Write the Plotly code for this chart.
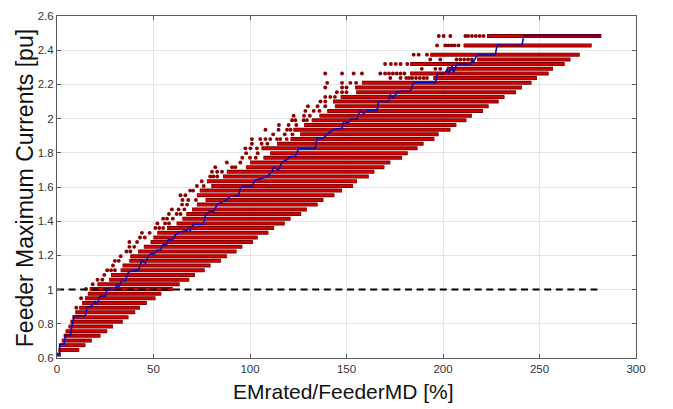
import plotly.graph_objects as go

# ---- data ----
row_y = [0.620, 0.647, 0.675, 0.702, 0.730, 0.757, 0.784, 0.812, 0.839, 0.867,
         0.894, 0.921, 0.949, 0.976, 1.004, 1.031, 1.058, 1.086, 1.113, 1.141,
         1.168, 1.195, 1.223, 1.250, 1.278, 1.305, 1.332, 1.360, 1.387, 1.415,
         1.442, 1.469, 1.497, 1.524, 1.552, 1.579, 1.606, 1.634, 1.661, 1.689,
         1.716, 1.743, 1.771, 1.798, 1.826, 1.853, 1.880, 1.908, 1.935, 1.963,
         1.990, 2.017, 2.045, 2.072, 2.100, 2.127, 2.154, 2.182, 2.209, 2.237,
         2.264, 2.291, 2.319, 2.346, 2.374, 2.428, 2.483]

row_start = [0, 0.8, 1.5, 2.5, 3.5, 4.5, 6, 7, 8, 9.5,
             11.5, 13, 14.5, 16, 17, 21, 27, 28, 33, 34,
             37.5, 38, 42, 45, 48.5, 50, 52, 57, 62, 65,
             67, 70, 72.5, 77, 72.5, 74, 80, 77.7, 86, 88,
             98, 100, 107, 110.5, 106, 114, 121, 126, 122.5, 128,
             132, 136, 140, 144, 143, 147, 155, 154.5, 158, 195,
             183, 202, 183, 217.6, 193.4, 210.7, 222.8]

row_end = [2, 11.5, 14.7, 18, 22.5, 26, 29, 34, 37, 40.5,
           43, 46.5, 51, 54, 60, 63.5, 68.5, 71.5, 76.5, 79.5,
           85, 88, 93, 96, 101.5, 104, 109.5, 112.5, 118, 121,
           126.5, 129.5, 135, 138, 143.7, 147.7, 153.4, 155.4, 161.5, 164.4,
           169.6, 172.7, 178.8, 181.7, 186.8, 189.9, 195.5, 197.7, 203.8, 206.9,
           212.1, 215, 220.7, 223.6, 228.8, 231.8, 237.8, 240.9, 245.8, 248.7,
           254.7, 257, 263, 266, 270.8, 277, 282]

row_sparse = [[], [], [], [], [], [], [], [], [], [],
              [10], [], [12.5], [], [15], [18.5], [21, 23.5], [24.5], [26, 28, 30], [29],
              [30, 32], [33], [36, 38], [37.5, 40], [37.5, 41.5], [43, 45.5], [44, 48], [51, 53, 55], [52, 56, 58], [55, 57, 60],
              [58, 62, 64], [59.5, 63, 66], [64.8, 67.4], [65, 68, 72], [64, 66.5], [69, 70.5], [72.5, 76], [75], [79.4, 81, 83], [80.3, 83, 85.5],
              [82, 90.7, 92.4], [88, 95], [96, 100, 103], [98, 104], [97.6, 100.2, 103.6], [101, 106, 109],
              [101, 105.3, 108, 110.5, 114, 115.7, 119], [112, 118, 122], [108, 114.8, 119.2, 121], [115, 120, 124],
              [121.8, 123.5, 127.8, 129.5], [122.6, 128, 131], [128.7, 133, 136], [130, 135, 139], [136.5, 139], [139, 141.6, 144],
              [145, 147.7, 150], [139, 147.7, 150], [140, 147.7, 152, 155],
              [172.7, 178, 181, 182.5, 184, 186, 188, 190, 191.7],
              [139, 147.7, 153.7, 158, 167.5, 170, 172, 174, 176, 178, 180],
              [189, 196, 198.6], [170, 173, 175.5, 178, 181.5],
              [193.4, 198.6, 207, 209, 211, 213, 215],
              [184.8, 187.4, 191.7],
              [196.9, 201.2, 202.8, 204.5, 206, 208],
              [197.8, 200.3, 203.8, 211.6, 213, 215, 217, 219, 221]]

blue_x = [0, 1.35, 1.35, 3.8, 4.3, 6.9, 7.8, 9, 14.7, 15.5, 18.1, 19.8, 20.5, 21.5, 22.4, 25, 25.9,
          30.2, 31, 31.9, 33.7, 35.4, 37.1, 42.3, 44, 45.8, 47.5, 49.2, 50, 51.8, 53.5, 55.2, 56.6,
          57.8, 59.6, 61.3, 63, 64.8, 67.4, 68.2, 69, 70.8, 76, 76.8, 79.4, 81.2, 82.9, 88, 89.8,
          94.1, 95, 95.8, 101, 102.7, 108.8, 111.4, 112.2, 114.8, 116.6, 119.2, 120.9, 123.5, 125.2,
          133.8, 134.7, 138.1, 139.9, 143.3, 147.7, 148.5, 151, 152, 155.4, 157.1, 158.9, 160.6,
          165.8, 166.6, 171.8, 172.7, 174.4, 176.1, 177.9, 183, 184.8, 196.1, 197, 201.2, 202, 203,
          204.7, 205.5, 207.2, 214.1, 215, 215.8, 217.6, 227.1, 228, 241, 241.8, 281.5]
blue_y = [0.62, 0.62, 0.68, 0.68, 0.732, 0.732, 0.79, 0.847, 0.847, 0.895, 0.905, 0.933, 0.91, 0.94, 0.962, 0.962, 1.0,
          1.0, 1.032, 1.015, 1.057, 1.05, 1.105, 1.115, 1.172, 1.155, 1.2, 1.215, 1.205, 1.23, 1.23, 1.267, 1.257,
          1.296, 1.287, 1.319, 1.335, 1.339, 1.345, 1.363, 1.345, 1.382, 1.382, 1.43, 1.461, 1.455, 1.497, 1.526, 1.549,
          1.549, 1.593, 1.606, 1.606, 1.64, 1.66, 1.689, 1.717, 1.70, 1.746, 1.76, 1.778, 1.778, 1.826,
          1.826, 1.885, 1.885, 1.908, 1.937, 1.943, 1.985, 1.975, 1.996, 1.996, 2.046, 2.03, 2.046,
          2.046, 2.1, 2.1, 2.138, 2.12, 2.153, 2.16, 2.16, 2.211, 2.211, 2.262, 2.265, 2.29, 2.265,
          2.306, 2.27, 2.32, 2.32, 2.339, 2.33, 2.372, 2.372, 2.429, 2.429, 2.486, 2.486]

limit_x = [0, 280]
limit_y = [1.0, 1.0]

x_ticks = [0, 50, 100, 150, 200, 250, 300]
y_ticks = [0.6, 0.8, 1, 1.2, 1.4, 1.6, 1.8, 2, 2.2, 2.4, 2.6]

# ---- build figure ----
seg_x, seg_y = [], []
for y, s, e in zip(row_y, row_start, row_end):
    seg_x += [s, e, None]
    seg_y += [y, y, None]

sp_x, sp_y = [], []
for y, xs in zip(row_y, row_sparse):
    for x in xs:
        sp_x.append(x)
        sp_y.append(y)

fig = go.Figure()
fig.add_trace(go.Scatter(x=seg_x, y=seg_y, mode="lines",
                         line=dict(color="#7a0000", width=4.0), hoverinfo="skip", showlegend=False))
fig.add_trace(go.Scatter(x=seg_x, y=seg_y, mode="lines",
                         line=dict(color="#d40000", width=2.2), hoverinfo="skip", showlegend=False))
fig.add_trace(go.Scatter(x=sp_x, y=sp_y, mode="markers",
                         marker=dict(size=3.9, color="#8e0000", line=dict(width=0)),
                         hoverinfo="skip", showlegend=False))
fig.add_trace(go.Scatter(x=limit_x, y=limit_y, mode="lines",
                         line=dict(color="black", width=2, dash="7px,4.6px"), showlegend=False))
fig.add_trace(go.Scatter(x=blue_x, y=blue_y, mode="lines",
                         line=dict(color="#0a0ab4", width=1.6), showlegend=False))

tick_font = dict(family="Liberation Sans Narrow, Liberation Sans, Arial", size=11.5, color="#333333")
axis_common = dict(showgrid=True, gridcolor="#e4e4e4", gridwidth=1, zeroline=False,
                   showline=True, linecolor="#5a5a5a", linewidth=1, mirror="ticks",
                   ticks="inside", ticklen=4, tickcolor="#5a5a5a", tickfont=tick_font)

fig.update_layout(
    width=673, height=409,
    margin=dict(l=57, r=37, t=10, b=51),
    paper_bgcolor="white", plot_bgcolor="white",
    xaxis=dict(range=[0, 300], tickvals=x_ticks, **axis_common),
    yaxis=dict(range=[0.6, 2.6], tickvals=y_ticks, **axis_common),
    annotations=[
        dict(text="EMrated/FeederMD [%]", xref="paper", yref="paper", x=0.495, y=-0.098,
             xanchor="center", yanchor="middle", showarrow=False,
             font=dict(family="Liberation Sans, Arial", size=21, color="#111111")),
        dict(text="Feeder Maximum Currents [pu]", xref="paper", yref="paper", x=-0.055, y=0.497,
             xanchor="center", yanchor="middle", textangle=-90, showarrow=False,
             font=dict(family="Liberation Sans, Arial", size=23, color="#111111")),
    ],
)

# remove the default 8 px page margin so the figure sits at the window's corner
fig.write_html("out.html", config={"displayModeBar": False},
               post_script="document.body.style.margin='0';")
